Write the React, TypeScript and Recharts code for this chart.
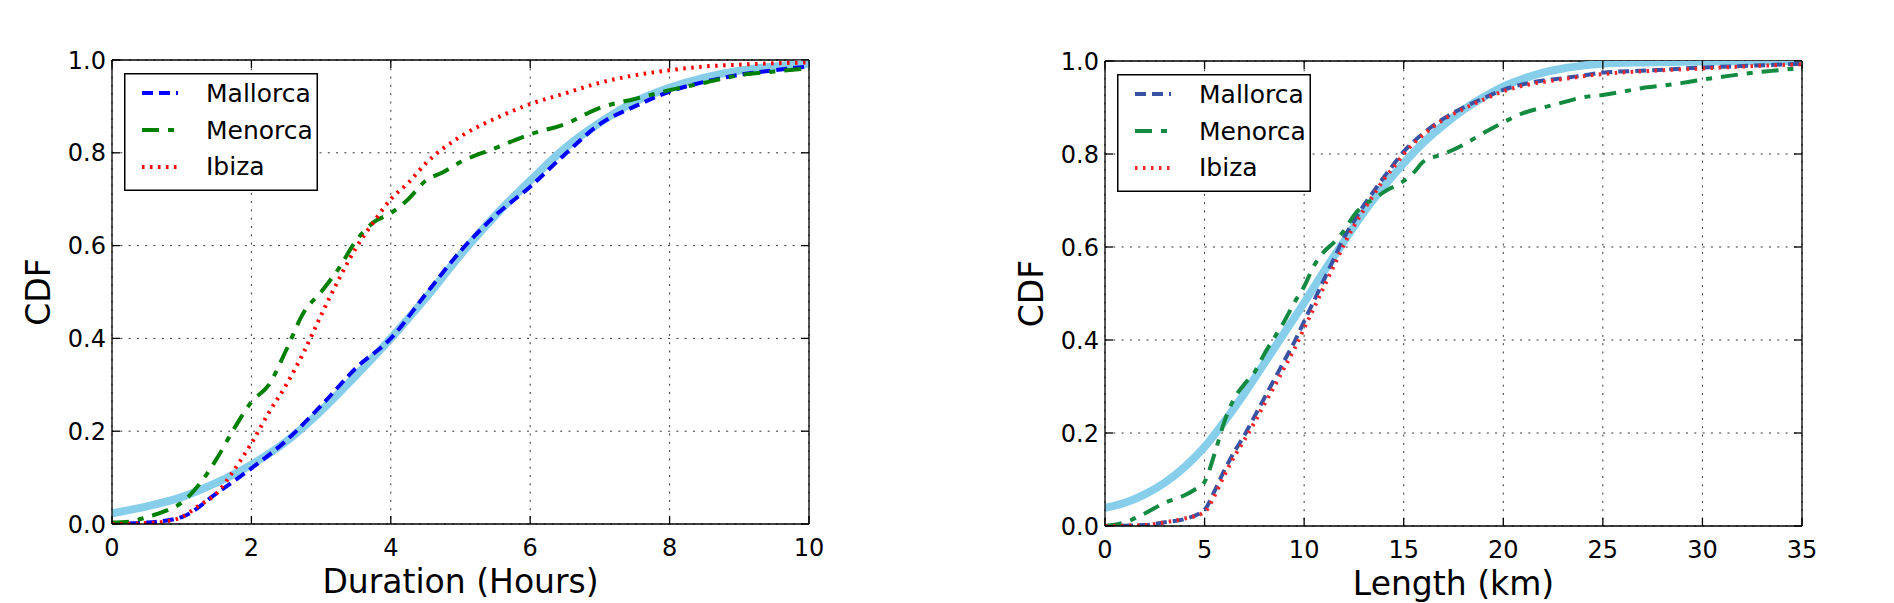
import React from "react";
import { LineChart, Line, XAxis, YAxis, CartesianGrid, ReferenceLine } from "recharts";

const FONT = "'DejaVu Sans', sans-serif";

// ---- Duration (hours) ----
const durTicks = [0, 2, 4, 6, 8, 10];

const durFitX = [0, 0.5, 1, 1.5, 2, 2.5, 3, 3.5, 4, 4.5, 5, 5.5, 6, 6.5, 7, 7.5, 8, 8.5, 9, 9.5, 10];
const durFitY = [0.023, 0.038, 0.058, 0.089, 0.128, 0.178, 0.244, 0.32, 0.4, 0.487, 0.58, 0.665, 0.74, 0.81, 0.865, 0.91, 0.94, 0.962, 0.977, 0.986, 0.992];

const durMallorcaX = [0, 0.5, 1, 1.5, 2, 2.5, 3, 3.5, 4, 4.5, 5, 5.5, 6, 6.5, 7, 7.5, 8, 8.5, 9, 9.5, 10];
const durMallorcaY = [0, 0.003, 0.015, 0.066, 0.12, 0.18, 0.255, 0.336, 0.4, 0.495, 0.588, 0.665, 0.727, 0.797, 0.862, 0.9, 0.932, 0.953, 0.968, 0.978, 0.986];

const durMenorcaX = [0, 0.25, 0.5, 0.75, 1, 1.25, 1.5, 1.75, 2, 2.25, 2.5, 2.75, 3, 3.25, 3.5, 3.75, 4, 4.25, 4.5, 4.75, 5, 5.5, 6, 6.5, 7, 7.5, 8, 8.5, 9, 9.5, 10];
const durMenorcaY = [0.003, 0.005, 0.015, 0.027, 0.046, 0.085, 0.14, 0.205, 0.263, 0.3, 0.375, 0.456, 0.5, 0.55, 0.61, 0.65, 0.67, 0.7, 0.74, 0.758, 0.78, 0.81, 0.84, 0.862, 0.897, 0.916, 0.935, 0.951, 0.967, 0.975, 0.982];

const durIbizaX = [0, 0.5, 0.75, 1, 1.25, 1.5, 1.75, 2, 2.25, 2.5, 2.75, 3, 3.25, 3.5, 3.75, 4, 4.25, 4.5, 5, 5.5, 6, 6.5, 7, 7.5, 8, 8.5, 9, 10];
const durIbizaY = [0, 0.002, 0.005, 0.015, 0.04, 0.066, 0.116, 0.174, 0.24, 0.3, 0.37, 0.45, 0.526, 0.595, 0.65, 0.7, 0.735, 0.777, 0.835, 0.874, 0.905, 0.928, 0.951, 0.967, 0.978, 0.986, 0.99, 0.995];

// ---- Length (km) ----
const lenTicks = [0, 5, 10, 15, 20, 25, 30, 35];

const lenFitX = [0, 1, 2, 3, 4, 5, 6, 7, 8, 9, 10, 11, 12, 13, 14, 15, 16, 17, 18, 19, 20, 21, 22, 23, 24, 25, 27, 30, 35];
const lenFitY = [0.039, 0.05, 0.068, 0.093, 0.127, 0.17, 0.225, 0.285, 0.35, 0.415, 0.48, 0.548, 0.612, 0.675, 0.73, 0.78, 0.825, 0.862, 0.895, 0.922, 0.945, 0.962, 0.975, 0.984, 0.99, 0.994, 0.997, 0.999, 1.0];

const lenMallorcaX = [0, 2, 3, 4, 5, 5.5, 6, 6.5, 7, 7.5, 8, 8.5, 9, 9.5, 10, 10.5, 11, 11.5, 12, 12.5, 13, 13.5, 14, 14.5, 15, 16, 17, 18, 19, 20, 21, 22, 23, 24, 25, 27.5, 30, 32.5, 35];
const lenMallorcaY = [0, 0.002, 0.008, 0.015, 0.035, 0.075, 0.12, 0.16, 0.195, 0.235, 0.275, 0.315, 0.355, 0.395, 0.44, 0.485, 0.53, 0.575, 0.62, 0.655, 0.69, 0.72, 0.75, 0.778, 0.805, 0.845, 0.876, 0.9, 0.92, 0.938, 0.95, 0.958, 0.963, 0.969, 0.975, 0.98, 0.986, 0.99, 0.994];

const lenMenorcaX = [0, 1, 2, 3, 4, 4.5, 5, 5.5, 6, 6.5, 7, 7.5, 8, 8.5, 9, 9.5, 10, 10.5, 11, 11.5, 12, 12.5, 13, 13.5, 14, 14.5, 15, 15.5, 16, 17, 18, 19, 20, 21, 22, 23, 24, 25, 26, 27, 28, 29, 30, 31, 32, 33, 34, 35];
const lenMenorcaY = [0, 0.008, 0.027, 0.05, 0.066, 0.078, 0.095, 0.155, 0.225, 0.275, 0.305, 0.33, 0.37, 0.405, 0.44, 0.48, 0.515, 0.56, 0.59, 0.61, 0.635, 0.668, 0.69, 0.703, 0.718, 0.73, 0.742, 0.76, 0.784, 0.8, 0.82, 0.845, 0.868, 0.888, 0.9, 0.911, 0.922, 0.927, 0.934, 0.942, 0.947, 0.953, 0.96, 0.966, 0.972, 0.977, 0.981, 0.985];

const lenIbizaX = [0, 2, 3, 4, 5, 5.5, 6, 6.5, 7, 7.5, 8, 8.5, 9, 9.5, 10, 10.5, 11, 11.5, 12, 12.5, 13, 13.5, 14, 14.5, 15, 16, 17, 18, 19, 20, 21, 22, 23, 24, 25, 27.5, 30, 32.5, 35];
const lenIbizaY = [0, 0.002, 0.008, 0.016, 0.03, 0.065, 0.11, 0.15, 0.185, 0.222, 0.262, 0.3, 0.34, 0.38, 0.425, 0.47, 0.515, 0.56, 0.605, 0.645, 0.68, 0.713, 0.745, 0.772, 0.8, 0.842, 0.874, 0.897, 0.917, 0.935, 0.947, 0.955, 0.961, 0.967, 0.972, 0.979, 0.984, 0.989, 0.993];

const cdfTicks = [0, 0.2, 0.4, 0.6, 0.8, 1.0];

const zip = (xs: number[], ys: number[]) => xs.map((x, i) => ({ x, y: ys[i] }));

const CHART_W = 947;
const CHART_H = 603;

interface Panel {
  left: number;
  margin: { top: number; right: number; bottom: number; left: number };
  xMax: number;
  xTicks: number[];
  xLabel: string;
  colors: { mallorca: string; menorca: string; ibiza: string };
  fit: { x: number; y: number }[];
  mallorca: { x: number; y: number }[];
  menorca: { x: number; y: number }[];
  ibiza: { x: number; y: number }[];
  legend: { left: number; top: number };
}

const STYLES = {
  mallorca: "11 6",
  menorca: "17 9 6 9",
  ibiza: "2.5 5.5",
};

const LINE_W = 4;
const Y_AXIS_W = 60;
const X_AXIS_H = 60;

const CdfPanel = ({ p }: { p: Panel }) => {
  const plotTop = p.margin.top;
  const plotLeft = p.margin.left + Y_AXIS_W;
  const plotRight = CHART_W - p.margin.right;
  const plotBottom = CHART_H - p.margin.bottom - X_AXIS_H;

  // ticks point inward, mirrored on the top / right frame
  const XTick = (props: any) => {
    const { x, y, payload } = props;
    return (
      <g>
        <line x1={x} y1={y} x2={x} y2={y - 8} stroke="#000" strokeWidth={1.3} />
        <line x1={x} y1={plotTop} x2={x} y2={plotTop + 8} stroke="#000" strokeWidth={1.3} />
        <text x={x} y={y + 32} textAnchor="middle" fontSize={24} fontFamily={FONT} fill="#000">
          {payload.value}
        </text>
      </g>
    );
  };

  const YTick = (props: any) => {
    const { x, y, payload } = props;
    return (
      <g>
        <line x1={x} y1={y} x2={x + 8} y2={y} stroke="#000" strokeWidth={1.3} />
        <line x1={plotRight} y1={y} x2={plotRight - 8} y2={y} stroke="#000" strokeWidth={1.3} />
        <text x={x - 6} y={y} dy="0.36em" textAnchor="end" fontSize={24} fontFamily={FONT} fill="#000">
          {Number(payload.value).toFixed(1)}
        </text>
      </g>
    );
  };

  const rows = [
    { name: "Mallorca", color: p.colors.mallorca, dash: STYLES.mallorca },
    { name: "Menorca", color: p.colors.menorca, dash: STYLES.menorca },
    { name: "Ibiza", color: p.colors.ibiza, dash: STYLES.ibiza },
  ];

  return (
    <div style={{ position: "absolute", left: p.left, top: 0, width: CHART_W, height: CHART_H }}>
      <LineChart width={CHART_W} height={CHART_H} margin={p.margin}>
        <CartesianGrid stroke="#333" strokeWidth={1} strokeDasharray="2 6.3" />
        <XAxis
          type="number"
          dataKey="x"
          domain={[0, p.xMax]}
          ticks={p.xTicks}
          height={X_AXIS_H}
          tickSize={0}
          tickMargin={0}
          tickLine={false}
          axisLine={{ stroke: "#000", strokeWidth: 1.3 }}
          tick={<XTick />}
          allowDataOverflow
          label={{
            content: () => (
              <text
                x={(plotLeft + plotRight) / 2}
                y={plotBottom + 69}
                textAnchor="middle"
                fontSize={33}
                fontFamily={FONT}
                fill="#000"
              >
                {p.xLabel}
              </text>
            ),
          }}
        />
        <YAxis
          type="number"
          domain={[0, 1]}
          ticks={cdfTicks}
          width={Y_AXIS_W}
          tickSize={0}
          tickMargin={0}
          tickLine={false}
          axisLine={{ stroke: "#000", strokeWidth: 1.3 }}
          tick={<YTick />}
          allowDataOverflow
          label={{
            content: () => (
              <text
                x={plotLeft - 62}
                y={(plotTop + plotBottom) / 2}
                transform={`rotate(-90 ${plotLeft - 62} ${(plotTop + plotBottom) / 2})`}
                textAnchor="middle"
                fontSize={33}
                fontFamily={FONT}
                fill="#000"
              >
                CDF
              </text>
            ),
          }}
        />
        <ReferenceLine y={1} stroke="#000" strokeWidth={1.3} />
        <ReferenceLine x={p.xMax} stroke="#000" strokeWidth={1.3} />
        <Line data={p.fit} dataKey="y" type="monotone" stroke="#87ceeb" strokeWidth={8} dot={false} isAnimationActive={false} />
        <Line data={p.mallorca} dataKey="y" type="monotone" stroke={p.colors.mallorca} strokeWidth={LINE_W} strokeDasharray={STYLES.mallorca} dot={false} isAnimationActive={false} />
        <Line data={p.menorca} dataKey="y" type="monotone" stroke={p.colors.menorca} strokeWidth={LINE_W} strokeDasharray={STYLES.menorca} dot={false} isAnimationActive={false} />
        <Line data={p.ibiza} dataKey="y" type="monotone" stroke={p.colors.ibiza} strokeWidth={LINE_W} strokeDasharray={STYLES.ibiza} dot={false} isAnimationActive={false} />
      </LineChart>
      <svg
        width={194}
        height={118}
        style={{ position: "absolute", left: p.legend.left - p.left, top: p.legend.top }}
      >
        <rect x={0.75} y={0.75} width={192.5} height={116.5} fill="#fff" stroke="#000" strokeWidth={1.5} />
        {rows.map((r, i) => (
          <g key={r.name}>
            <line x1={18} x2={54} y1={20 + i * 37} y2={20 + i * 37} stroke={r.color} strokeWidth={LINE_W} strokeDasharray={r.dash} />
            <text x={82} y={29 + i * 36.5} fontSize={25} fontFamily={FONT} fill="#000">
              {r.name}
            </text>
          </g>
        ))}
      </svg>
    </div>
  );
};

const durationPanel: Panel = {
  left: 0,
  margin: { top: 60, right: 138, bottom: 19, left: 52 },
  xMax: 10,
  xTicks: durTicks,
  xLabel: "Duration (Hours)",
  colors: { mallorca: "#0000ff", menorca: "#008000", ibiza: "#ff0000" },
  fit: zip(durFitX, durFitY),
  mallorca: zip(durMallorcaX, durMallorcaY),
  menorca: zip(durMenorcaX, durMenorcaY),
  ibiza: zip(durIbizaX, durIbizaY),
  legend: { left: 124, top: 73 },
};

const lengthPanel: Panel = {
  left: 947,
  margin: { top: 61, right: 92, bottom: 17, left: 98 },
  xMax: 35,
  xTicks: lenTicks,
  xLabel: "Length (km)",
  colors: { mallorca: "#3953a4", menorca: "#138a3f", ibiza: "#f0262b" },
  fit: zip(lenFitX, lenFitY),
  mallorca: zip(lenMallorcaX, lenMallorcaY),
  menorca: zip(lenMenorcaX, lenMenorcaY),
  ibiza: zip(lenIbizaX, lenIbizaY),
  legend: { left: 1117, top: 74 },
};

export default function App() {
  return (
    <div style={{ position: "absolute", left: 0, top: 0, width: 1894, height: 603, background: "#fff" }}>
      <CdfPanel p={durationPanel} />
      <CdfPanel p={lengthPanel} />
    </div>
  );
}
